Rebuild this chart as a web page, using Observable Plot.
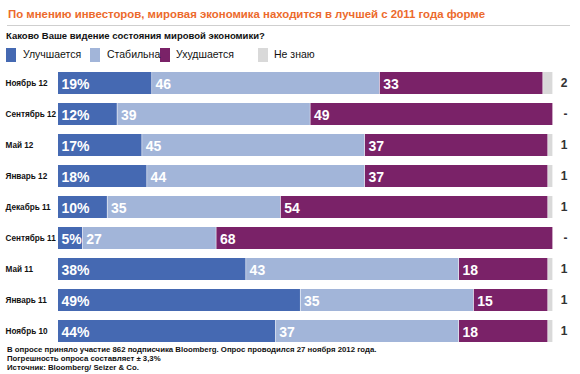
<!DOCTYPE html>
<html><head><meta charset="utf-8">
<script src="https://cdn.jsdelivr.net/npm/d3@7"></script>
<script src="https://cdn.jsdelivr.net/npm/@observablehq/plot@0.6"></script>
<style>
body{margin:0;font-family:"Liberation Sans",Arial,sans-serif;background:#fff}
#wrap{position:relative;width:580px;height:374px;overflow:hidden;background:#fff}
.abs{position:absolute;white-space:nowrap;line-height:1;z-index:2}
.sw{position:absolute;width:10px;height:14px}
#chart{position:absolute;left:0;top:63px;z-index:1}
</style></head><body><div id="wrap"></div>
<script>
const dates = ["Ноябрь 12","Сентябрь 12","Май 12","Январь 12","Декабрь 11","Сентябрь 11","Май 11","Январь 11","Ноябрь 10"];
const improving = [19,12,17,18,10,5,38,49,44];
const stable    = [46,39,45,44,35,27,43,35,37];
const worsening = [33,49,37,37,54,68,18,15,18];
const dontKnow  = [2,0,1,1,1,0,1,1,1];
const series = ["Улучшается","Стабильна","Ухудшается","Не знаю"];
const colors = ["#4569b2","#a2b5d9","#7a2268","#d9d9d9"];
const title = "По мнению инвесторов, мировая экономика находится в лучшей с 2011 года форме";
const subtitle = "Каково Ваше видение состояния мировой экономики?";
const notes = ["В опросе приняло участие 862 подписчика Bloomberg. Опрос проводился 27 ноября 2012 года.",
  "Погрешность опроса составляет ± 3,3%",
  "Источник: Bloomberg/ Seizer & Co."];

const seriesValues = [improving, stable, worsening, dontKnow];
const table = [];
dates.forEach((d, i) => series.forEach((s, k) => table.push({date: d, cat: s, value: seriesValues[k][i], k})));

const wrap = document.getElementById("wrap");
function el(cls, style, text) {
  const e = document.createElement("div");
  e.className = cls;
  Object.assign(e.style, style);
  if (text != null) e.textContent = text;
  wrap.appendChild(e);
  return e;
}

const chart = Plot.plot({
  width: 580, height: 288,
  marginTop: 0, marginBottom: 0, marginLeft: 58, marginRight: 27,
  x: {domain: [0, 100], axis: null},
  y: {domain: dates, padding: 0.29, axis: null},
  color: {domain: series, range: colors},
  style: {fontFamily: '"Liberation Sans", Arial, sans-serif', background: "transparent"},
  marks: [
    Plot.barX(table, {x: "value", y: "date", fill: "cat", insetRight: 0.6}),
    Plot.text(table.filter(d => d.k < 3), Plot.stackX1({
      x: "value", y: "date", z: "cat",
      text: d => d.k === 0 ? d.value + "%" : String(d.value),
      textAnchor: "start", dx: 3, dy: 1, fill: "white", fontWeight: "bold", fontSize: 14
    })),
    Plot.text(dates, {y: d => d, text: d => d, frameAnchor: "left", dx: -53, textAnchor: "start",
      fontWeight: "bold", fontSize: 8.2, fill: "#111"}),
    Plot.text(dates.map((d, i) => ({d, v: dontKnow[i]})), {y: "d", text: r => r.v ? String(r.v) : "-",
      frameAnchor: "right", dx: 14, fontWeight: "bold", fontSize: 12, fill: "#333"})
  ]
});
chart.id = "chart";
wrap.appendChild(chart);

el("abs", {left:"8px", top:"9px", fontSize:"11.4px", fontWeight:"bold", color:"#ec6a2c"}, title);
el("abs", {left:"7px", top:"25px", width:"563px", height:"0", borderTop:"1px solid #cfcfcf"});
el("abs", {left:"6px", top:"31px", fontSize:"9.5px", fontWeight:"bold", color:"#111"}, subtitle);
const swX = [6, 90, 160, 258], txX = [23, 107, 176, 274];
series.forEach((s, k) => {
  el("sw", {left: swX[k] + "px", top: "48px", background: colors[k]});
  el("abs", {left: txX[k] + "px", top: "49px", fontSize: "10.5px", color: "#111"}, s);
});
notes.forEach((n, i) => el("abs", {left:"7px", top: (345.5 + i * 9) + "px", fontSize:"7.8px", fontWeight:"bold", color:"#111"}, n));
</script></body></html>
